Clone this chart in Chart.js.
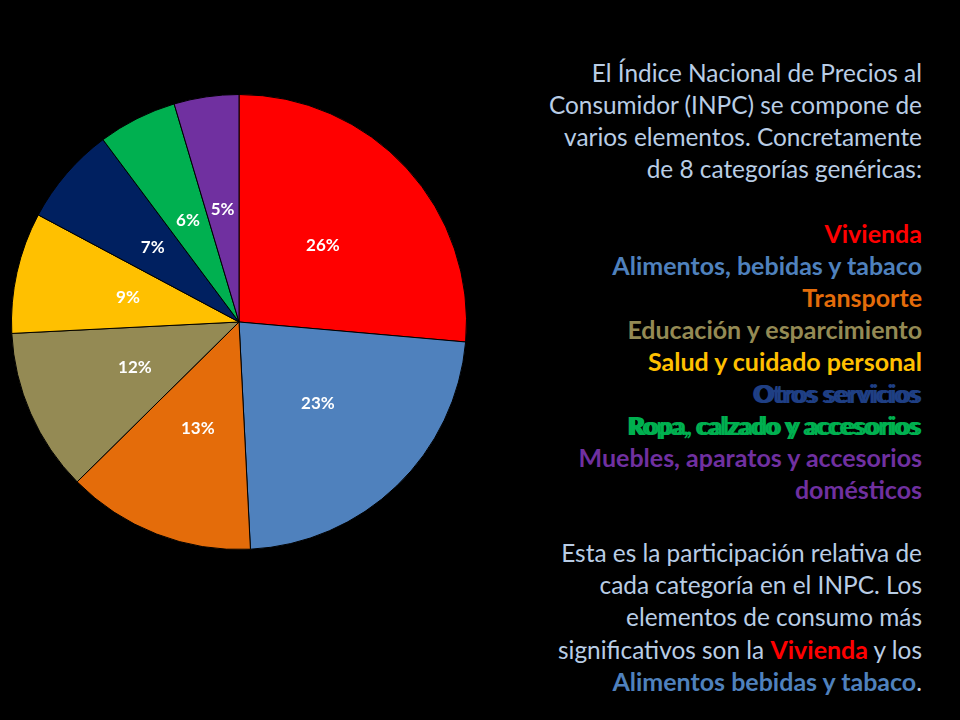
<!DOCTYPE html>
<html><head><meta charset="utf-8">
<script src="https://cdn.jsdelivr.net/npm/chart.js@4"></script>
<style>
html,body{margin:0;padding:0;background:#000;width:960px;height:720px;overflow:hidden}
#pie{position:absolute;left:11px;top:94px;width:456px;height:456px}
#text{position:absolute;right:38px;top:57px;text-align:right;font-family:Lato,"Open Sans",sans-serif;font-size:24.4px;color:#B9CDE5;white-space:nowrap}
#text div{height:32px;line-height:32px}
#text b{font-weight:700;font-size:25px;line-height:32px}
</style></head>
<body>
<div id="pie"><canvas id="c"></canvas></div>
<div id="text">
<div>El Índice Nacional de Precios al</div>
<div>Consumidor (INPC) se compone de</div>
<div>varios elementos. Concretamente</div>
<div>de 8 categorías genéricas:</div>
<div></div>
<div><b style="color:#FF0000">Vivienda</b></div>
<div><b style="color:#4F81BD">Alimentos, bebidas y tabaco</b></div>
<div><b style="color:#E46C0A">Transporte</b></div>
<div><b style="color:#948A54">Educación y esparcimiento</b></div>
<div><b style="color:#FFC000">Salud y cuidado personal</b></div>
<div><b style="color:#1F3F84;text-shadow:-3px 0 0 #1F3F84">Otros servicios</b></div>
<div><b style="color:#00B050;text-shadow:-3px 0 0 #00B050">Ropa, calzado y accesorios</b></div>
<div><b style="color:#7030A0">Muebles, aparatos y accesorios</b></div>
<div><b style="color:#7030A0">domésticos</b></div>
<div></div>
<div>Esta es la participación relativa de</div>
<div>cada categoría en el INPC. Los</div>
<div>elementos de consumo más</div>
<div>significativos son la <b style="color:#FF0000">Vivienda</b> y los</div>
<div><b style="color:#4F81BD">Alimentos bebidas y tabaco</b>.</div>
</div>
<script>
const categories = ['Vivienda','Alimentos, bebidas y tabaco','Transporte','Educación y esparcimiento','Salud y cuidado personal','Otros servicios','Ropa, calzado y accesorios','Muebles, aparatos y accesorios domésticos'];
const shares = [26.4, 22.8, 13.4, 11.6, 8.6, 7.0, 5.6, 4.6];
const shareLabels = ['26%','23%','13%','12%','9%','7%','6%','5%'];
const sliceColors = ['#FF0000','#4F81BD','#E46C0A','#948A54','#FFC000','#002060','#00B050','#7030A0'];

const labelPlugin = {
  id: 'sliceLabels',
  afterDatasetsDraw(chart) {
    const ctx = chart.ctx;
    const meta = chart.getDatasetMeta(0);
    ctx.save();
    ctx.fillStyle = '#FFFFFF';
    ctx.font = 'bold 17px Lato, "Open Sans", sans-serif';
    ctx.textAlign = 'center';
    ctx.textBaseline = 'middle';
    meta.data.forEach((el, i) => {
      const p = el.tooltipPosition();
      ctx.fillText(shareLabels[i], p.x, p.y);
    });
    ctx.restore();
  }
};

new Chart(document.getElementById('c'), {
  type: 'pie',
  data: {
    labels: categories,
    datasets: [{
      data: shares,
      backgroundColor: sliceColors,
      borderColor: '#000000',
      borderWidth: 1
    }]
  },
  options: {
    responsive: true,
    maintainAspectRatio: false,
    animation: false,
    layout: { padding: 0 },
    plugins: { legend: { display: false }, tooltip: { enabled: false } }
  },
  plugins: [labelPlugin]
});
</script>
</body></html>
